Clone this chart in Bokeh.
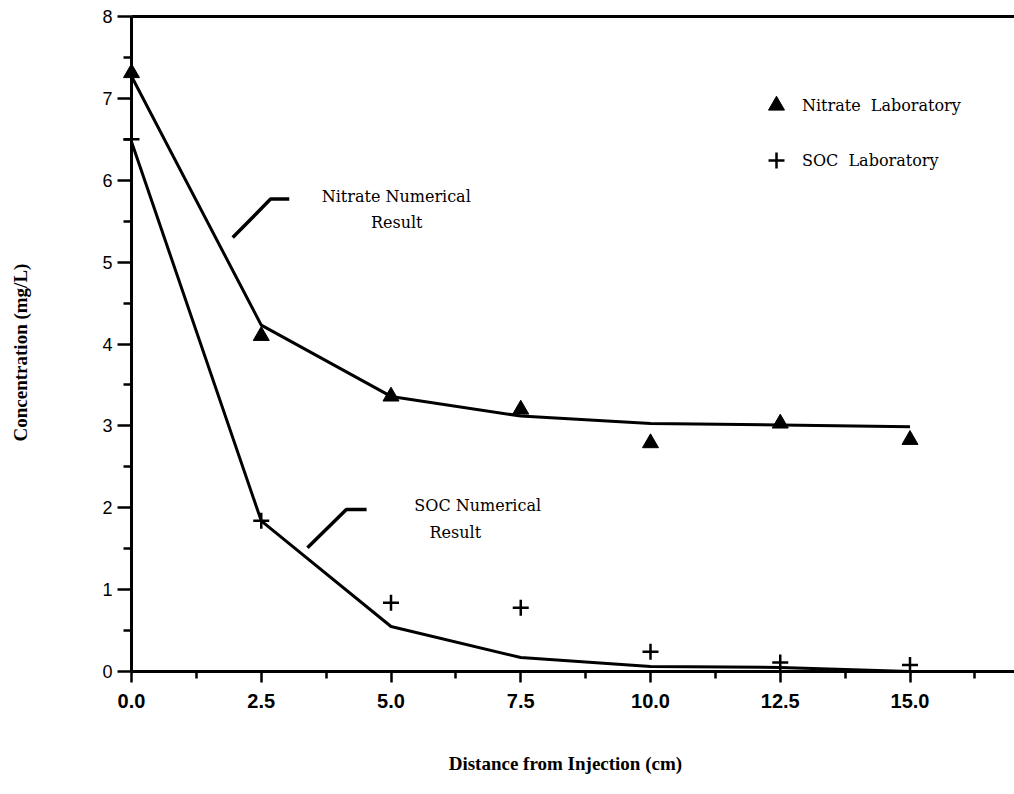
import math
from bokeh.plotting import figure
from bokeh.models import (Range1d, FixedTicker, PrintfTickFormatter, Label,
                          Legend, LegendItem, LinearAxis)
from bokeh.embed import file_html
from bokeh.resources import INLINE

# ---- data ----
distance = [0.0, 2.5, 5.0, 7.5, 10.0, 12.5, 15.0]
nitrate_lab = [7.31, 4.10, 3.36, 3.20, 2.79, 3.03, 2.83]
nitrate_num = [7.27, 4.23, 3.36, 3.12, 3.03, 3.01, 2.99]
soc_lab = [6.50, 1.84, 0.84, 0.78, 0.24, 0.11, 0.08]
soc_num = [6.47, 1.84, 0.55, 0.17, 0.06, 0.05, 0.00]

x_ticks = [0.0, 2.5, 5.0, 7.5, 10.0, 12.5, 15.0]
x_minor = [1.25, 3.75, 6.25, 8.75, 11.25, 13.75, 16.25]
y_ticks = [0, 1, 2, 3, 4, 5, 6, 7, 8]
y_minor = [0.5, 1.5, 2.5, 3.5, 4.5, 5.5, 6.5, 7.5]

# callout leader lines (data coords)
nitrate_callout_x = [1.95, 2.68, 3.04]
nitrate_callout_y = [5.30, 5.77, 5.77]
soc_callout_x = [3.39, 4.14, 4.53]
soc_callout_y = [1.51, 1.98, 1.98]

# ---- layout (the frame covers the whole canvas; axes sit at fixed data locations) ----
W, H = 1014, 794
X0_PX, Y0_PX, Y8_PX = 131.0, 671.0, 16.0
PX_PER_X = 51.9
PX_PER_Y = (Y0_PX - Y8_PX) / 8.0
x_start = -X0_PX / PX_PER_X
x_end = (W - X0_PX) / PX_PER_X
y_end = 8 + Y8_PX / PX_PER_Y
y_start = -(H - Y0_PX) / PX_PER_Y

SERIF = "Liberation Serif"
ANNO = "DejaVu Serif"
SANS = "Liberation Sans"

p = figure(width=W, height=H,
           x_range=Range1d(x_start, x_end), y_range=Range1d(y_start, y_end),
           output_backend="svg", toolbar_location=None,
           min_border_left=0, min_border_right=0,
           min_border_top=0, min_border_bottom=0)
p.outline_line_color = None
p.xgrid.visible = False
p.ygrid.visible = False
p.background_fill_color = "white"
p.border_fill_color = "white"

# numerical result lines
p.line(distance, nitrate_num, line_color="black", line_width=3)
p.line(distance, soc_num, line_color="black", line_width=3)

# laboratory markers
tri = p.scatter(distance, nitrate_lab, marker="triangle", size=16,
                fill_color="black", line_color="black")
plus = p.scatter(distance, soc_lab, marker="cross", size=16,
                 line_color="black", line_width=2.5)

# callout leader lines
p.line(nitrate_callout_x, nitrate_callout_y, line_color="black", line_width=3.5)
p.line(soc_callout_x, soc_callout_y, line_color="black", line_width=3.5)

# axes
xa = p.xaxis[0]
xa.fixed_location = 0
xa.bounds = (0, x_end)
xa.ticker = FixedTicker(ticks=x_ticks, minor_ticks=x_minor)
xa.formatter = PrintfTickFormatter(format="%.1f")
xa.axis_line_width = 3
xa.major_tick_line_width = 2.5
xa.minor_tick_line_width = 2.5
xa.major_tick_out = 11
xa.major_tick_in = 0
xa.minor_tick_out = 7
xa.minor_tick_in = 0
xa.major_label_standoff = 11
xa.major_label_text_font = SANS
xa.major_label_text_font_style = "bold"
xa.major_label_text_font_size = "20px"
xa.major_label_text_color = "black"

ya = p.yaxis[0]
ya.fixed_location = 0
ya.bounds = (0, 8)
ya.ticker = FixedTicker(ticks=y_ticks, minor_ticks=y_minor)
ya.axis_line_width = 3
ya.major_tick_line_width = 2.5
ya.minor_tick_line_width = 2.5
ya.major_tick_out = 14
ya.major_tick_in = 0
ya.minor_tick_out = 8
ya.minor_tick_in = 0
ya.major_label_standoff = 5
ya.major_label_text_font = SANS
ya.major_label_text_font_size = "18px"
ya.major_label_text_color = "black"

# top border: an axis line only, at y = 8
top = LinearAxis(fixed_location=8, bounds=(0, x_end),
                 ticker=FixedTicker(ticks=[], minor_ticks=[]),
                 axis_line_width=3, axis_line_color="black",
                 major_tick_out=0, major_tick_in=0, minor_tick_out=0, minor_tick_in=0,
                 major_label_text_font_size="0px")
p.add_layout(top, "above")

# axis titles
p.add_layout(Label(x=8.36, y=-1.124, text="Distance from Injection (cm)",
                   text_font=SERIF, text_font_style="bold", text_font_size="19px",
                   text_align="center", text_baseline="middle", text_color="black"))
p.add_layout(Label(x=-2.139, y=3.896, text="Concentration (mg/L)", angle=math.pi / 2,
                   text_font=SERIF, text_font_style="bold", text_font_size="19px",
                   text_align="center", text_baseline="middle", text_color="black"))

# callout texts
for tx, ty, t in [(5.15, 5.80, "Nitrate  Numerical"), (5.11, 5.49, "Result"),
                  (6.67, 2.03, "SOC Numerical"), (6.24, 1.70, "Result")]:
    p.add_layout(Label(x=tx, y=ty, text=t, text_font=ANNO, text_font_size="16px",
                       text_align="center", text_baseline="middle", text_color="black"))

legend = Legend(items=[LegendItem(label="Nitrate  Laboratory", renderers=[tri]),
                       LegendItem(label="SOC  Laboratory", renderers=[plus])],
                location=(756, 614), border_line_color=None, background_fill_alpha=0,
                padding=0, margin=0, spacing=15, glyph_width=40, glyph_height=40,
                label_height=40, label_standoff=6, label_text_font=ANNO,
                label_text_font_size="16px", label_text_color="black")
p.add_layout(legend, "center")

open("out.html", "w").write(file_html(p, INLINE))
